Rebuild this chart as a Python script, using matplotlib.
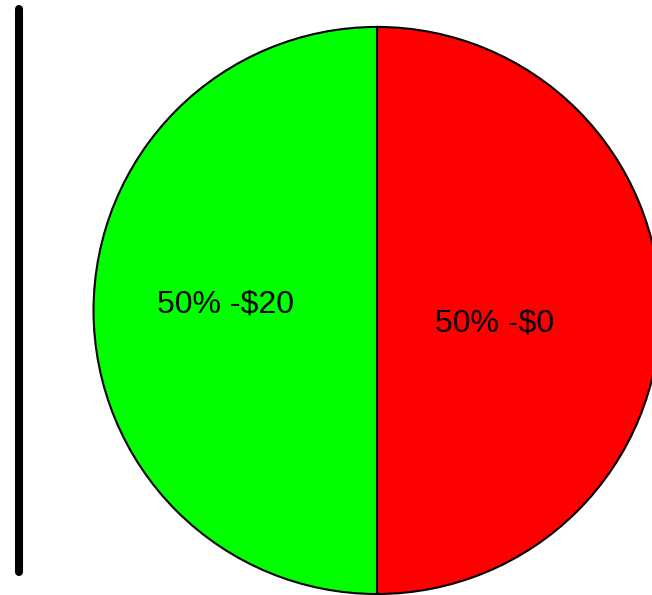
import numpy as np
import matplotlib.pyplot as plt

# slice shares and the dollar amount behind each one
shares = [50, 50]
amounts = [20, 0]
colors = ["#00ff00", "#ff0000"]

plt.rcParams['font.family'] = ['Liberation Sans', 'DejaVu Sans']

fig = plt.figure(figsize=(6.52, 5.95), dpi=100)
ax = fig.add_axes([0, 0, 1, 1])
ax.axis('off')

wedges, _ = ax.pie(shares, colors=colors, startangle=90, counterclock=True,
                   radius=1.0, center=(0, 0),
                   wedgeprops=dict(edgecolor='black', linewidth=1.5))

# label text from the data, placed inside each slice
labels = ["%d%% -$%d" % (s, a) for s, a in zip(shares, amounts)]
label_pos = [(-0.534, 0.020), (0.413, -0.046)]
for (x, y), txt in zip(label_pos, labels):
    ax.text(x, y, txt, ha='center', va='center', fontsize=23, color='black')

# thick bar down the left side
ax.plot([-1.2646, -1.2646], [1.064, -0.923], color='black', linewidth=5.8,
        solid_capstyle='round')

ax.set_xlim(-1.330, 0.970)
ax.set_ylim(-1.0035, 1.095)
ax.set_aspect('auto')

fig.savefig("out.png", dpi=100)
